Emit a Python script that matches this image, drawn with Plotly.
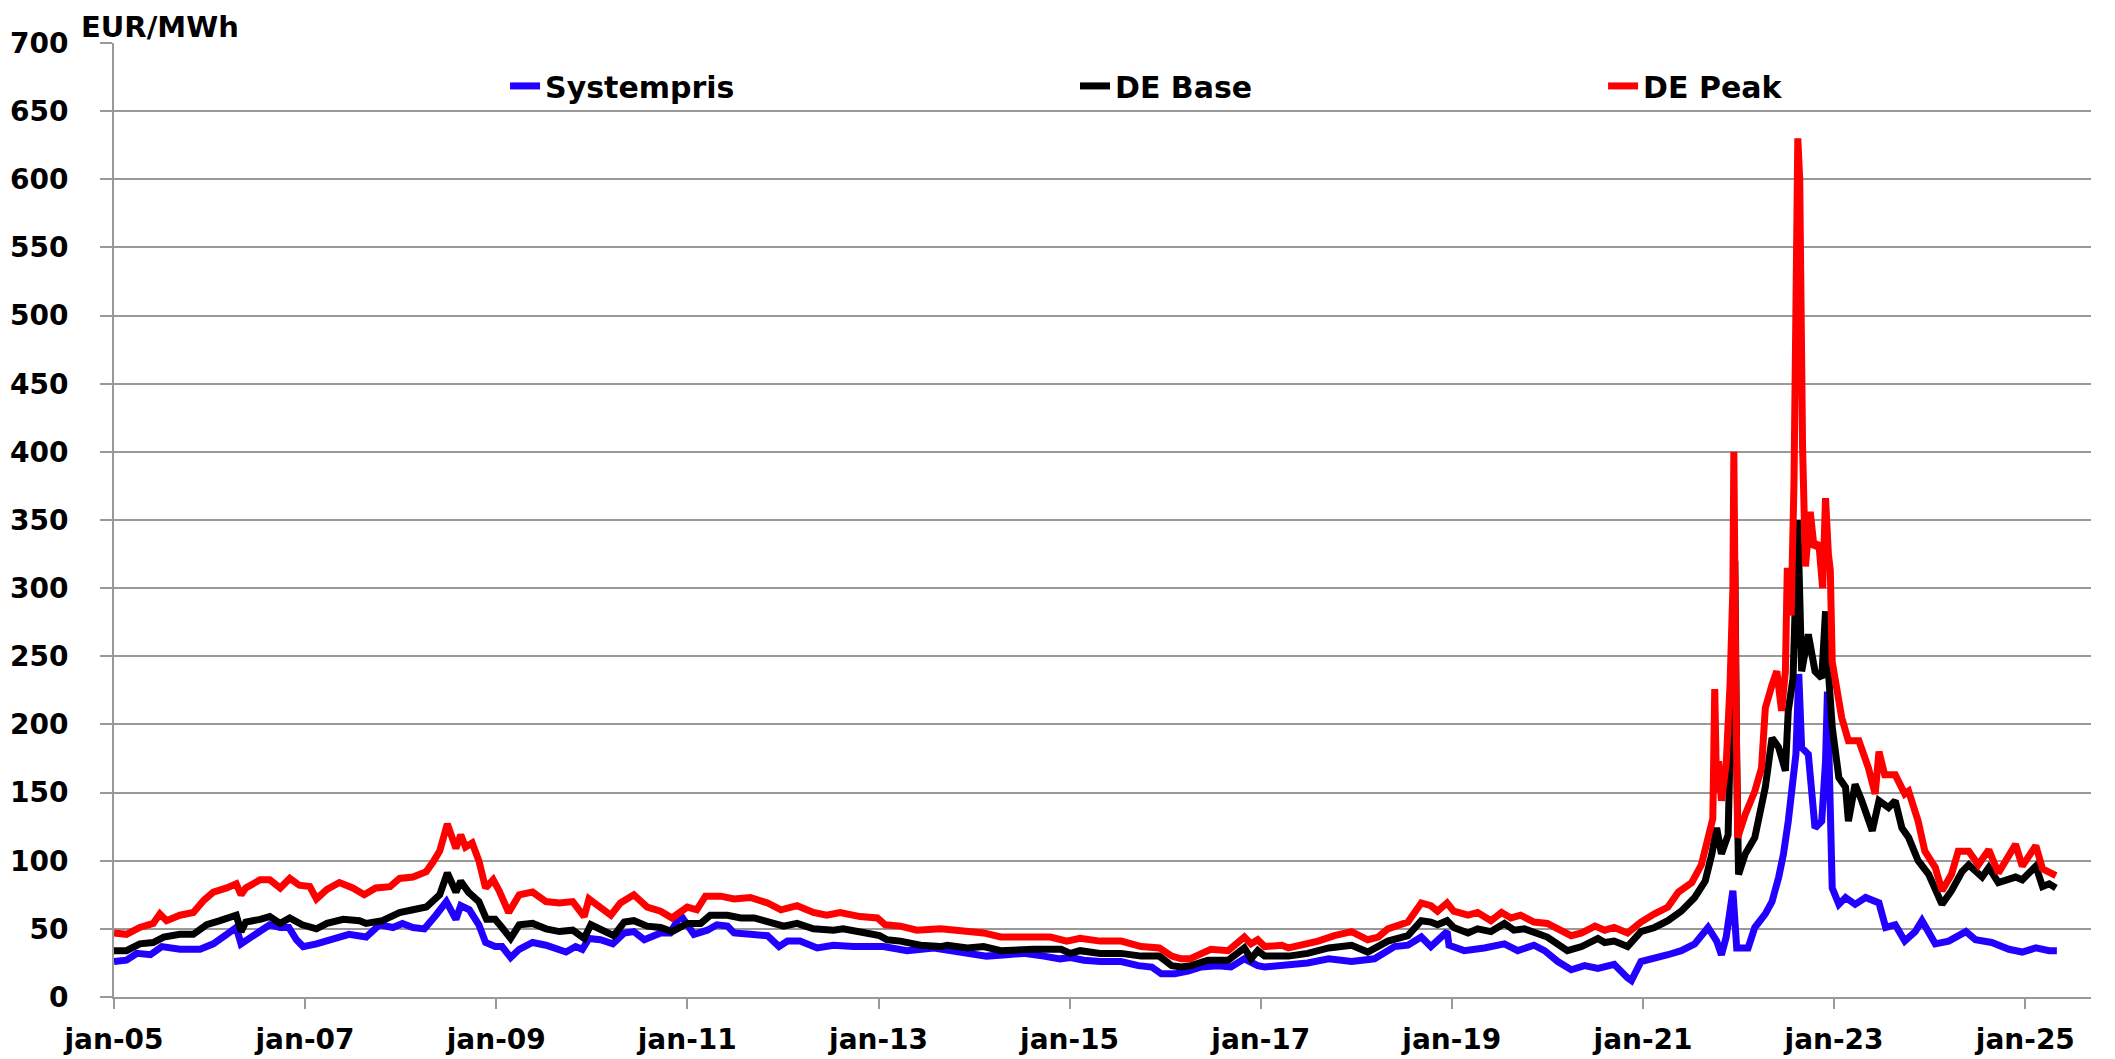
import pandas as pd
import plotly.graph_objects as go

# decimal years, with values in EUR/MWh
sys_t = [2005.00, 2005.13, 2005.24, 2005.38, 2005.50, 2005.69, 2005.90,
         2006.04, 2006.18, 2006.28, 2006.33, 2006.42, 2006.53, 2006.63, 2006.74, 2006.83, 2006.91, 2006.98,
         2007.12, 2007.29, 2007.46, 2007.64, 2007.78, 2007.92,
         2008.02, 2008.13, 2008.25, 2008.37, 2008.48, 2008.58, 2008.63, 2008.72, 2008.82, 2008.89, 2008.99,
         2009.06, 2009.15, 2009.24, 2009.38, 2009.52, 2009.66, 2009.73, 2009.83, 2009.90, 2009.97,
         2010.09, 2010.22, 2010.34, 2010.44, 2010.55, 2010.72, 2010.82, 2010.93,
         2011.02, 2011.07, 2011.21, 2011.31, 2011.42, 2011.49, 2011.66, 2011.84, 2011.96,
         2012.05, 2012.18, 2012.36, 2012.53, 2012.74,
         2013.05, 2013.30, 2013.58, 2013.82,
         2014.13, 2014.34, 2014.52, 2014.73, 2014.90,
         2015.01, 2015.15, 2015.32, 2015.54, 2015.72, 2015.86, 2015.96,
         2016.10, 2016.24, 2016.38, 2016.55, 2016.69, 2016.83, 2016.97,
         2017.04, 2017.29, 2017.49, 2017.71, 2017.95,
         2018.19, 2018.30, 2018.40, 2018.54, 2018.68, 2018.78, 2018.95, 2018.97,
         2019.13, 2019.34, 2019.55, 2019.69, 2019.86, 2019.97,
         2020.11, 2020.25, 2020.39, 2020.53, 2020.60, 2020.70, 2020.84, 2020.88, 2020.98,
         2021.12, 2021.26, 2021.40, 2021.54, 2021.68, 2021.77, 2021.82, 2021.87, 2021.94, 2021.98,
         2022.10, 2022.17, 2022.28, 2022.35, 2022.42, 2022.47, 2022.52, 2022.57, 2022.60, 2022.63,
         2022.66, 2022.73, 2022.77, 2022.80, 2022.87, 2022.91, 2022.93, 2022.98,
         2023.05, 2023.12, 2023.22, 2023.33, 2023.47, 2023.54, 2023.64, 2023.74, 2023.85, 2023.92,
         2024.06, 2024.20, 2024.38, 2024.48, 2024.65, 2024.83, 2024.97,
         2025.11, 2025.25, 2025.33]
sys_v = [26, 27, 32, 31, 37, 35, 35,
         39, 46, 51, 39, 43, 49, 53, 51, 51, 42, 37,
         39, 42, 46, 44, 53, 51,
         54, 51, 50, 60, 70, 57, 67, 64, 53, 40, 37,
         37, 29, 35, 40, 38, 35, 33, 37, 35, 43,
         42, 39, 47, 48, 42, 47, 47, 60,
         50, 46, 49, 53, 52, 47, 46, 45, 37,
         41, 41, 36, 38, 37,
         37, 34, 36, 33,
         30, 31, 32, 30, 28,
         29, 27, 26, 26, 23, 22, 17,
         17, 19, 22, 23, 22, 28, 23,
         22, 23, 25, 28, 26,
         28, 32, 37, 38, 44, 37, 48, 38,
         34, 36, 39, 34, 38, 34,
         26, 20, 23, 21, 22, 24, 14, 12, 26,
         28, 31, 34, 39, 51, 41, 31, 44, 78, 36,
         36, 51, 61, 70, 88, 105, 129, 154, 178, 237,
         183, 178, 149, 124, 129, 173, 224, 80,
         68, 73, 68, 73, 69, 51, 53, 41, 48, 56,
         39, 41, 48, 42, 40, 35, 33,
         36, 34, 34]

base_t = [2005.00, 2005.13, 2005.27, 2005.41, 2005.52, 2005.69, 2005.83, 2005.97,
          2006.11, 2006.28, 2006.33, 2006.38, 2006.53, 2006.63, 2006.74, 2006.84, 2006.97,
          2007.12, 2007.23, 2007.40, 2007.57, 2007.64, 2007.81, 2007.99,
          2008.13, 2008.27, 2008.41, 2008.49, 2008.58, 2008.63, 2008.71, 2008.82, 2008.90, 2008.99,
          2009.06, 2009.15, 2009.24, 2009.38, 2009.52, 2009.66, 2009.80, 2009.92, 2009.99,
          2010.11, 2010.23, 2010.34, 2010.44, 2010.58, 2010.72, 2010.84,
          2011.00, 2011.14, 2011.24, 2011.42, 2011.56, 2011.70, 2011.84,
          2012.01, 2012.15, 2012.32, 2012.53, 2012.63, 2012.87,
          2013.01, 2013.09, 2013.23, 2013.44, 2013.65, 2013.72, 2013.93,
          2014.10, 2014.28, 2014.63, 2014.91,
          2015.01, 2015.11, 2015.32, 2015.54, 2015.75, 2015.94,
          2016.07, 2016.17, 2016.27, 2016.45, 2016.66, 2016.83, 2016.90, 2016.97,
          2017.04, 2017.29, 2017.49, 2017.71, 2017.95,
          2018.12, 2018.33, 2018.54, 2018.68, 2018.78, 2018.85, 2018.95,
          2019.02, 2019.17, 2019.27, 2019.41, 2019.55, 2019.65, 2019.76, 2019.86,
          2020.00, 2020.21, 2020.36, 2020.53, 2020.60, 2020.70, 2020.84, 2020.98,
          2021.12, 2021.26, 2021.40, 2021.54, 2021.65, 2021.72, 2021.77, 2021.82, 2021.89, 2021.93, 2021.96, 2021.98,
          2022.00, 2022.07, 2022.17, 2022.28, 2022.35, 2022.42, 2022.49, 2022.52, 2022.57, 2022.62,
          2022.66, 2022.73, 2022.80, 2022.87, 2022.91, 2022.94, 2022.98,
          2023.05, 2023.12, 2023.15, 2023.22, 2023.29, 2023.40, 2023.47, 2023.57, 2023.64, 2023.71, 2023.78, 2023.88, 2023.99,
          2024.06, 2024.13, 2024.23, 2024.34, 2024.41, 2024.55, 2024.62, 2024.72, 2024.90, 2024.97,
          2025.11, 2025.18, 2025.25, 2025.32]
base_v = [34, 34, 39, 40, 44, 46, 46, 53,
          56, 60, 48, 55, 57, 59, 54, 58, 53,
          50, 54, 57, 56, 54, 56, 62,
          64, 66, 75, 91, 77, 85, 77, 70, 57, 57,
          51, 43, 53, 54, 50, 48, 49, 43, 53,
          49, 45, 55, 56, 52, 51, 48,
          54, 54, 60, 60, 58, 58, 55,
          52, 54, 50, 49, 50, 47,
          45, 42, 41, 38, 37, 38, 36,
          37, 34, 35, 35,
          32, 34, 32, 32, 30, 30,
          23, 22, 23, 27, 27, 36, 28, 34,
          30, 30, 32, 36, 38,
          33, 41, 45, 56, 55, 53, 56,
          51, 47, 50, 48, 54, 49, 50, 47,
          44, 34, 37, 43, 40, 41, 37, 48,
          51, 56, 63, 73, 85, 105, 124, 105, 119, 244, 320, 173,
          90, 105, 117, 154, 190, 183, 166, 210, 234, 350,
          239, 266, 239, 234, 283, 239, 198,
          161, 154, 129, 156, 144, 122, 144, 139, 144, 124, 117, 100, 90,
          80, 68, 78, 92, 97, 88, 95, 84, 88, 86,
          96, 81, 83, 80]

peak_t = [2005.00, 2005.13, 2005.27, 2005.41, 2005.48, 2005.55, 2005.69, 2005.83, 2005.94,
          2006.04, 2006.18, 2006.28, 2006.33, 2006.38, 2006.53, 2006.63, 2006.74, 2006.84, 2006.94,
          2007.05, 2007.12, 2007.23, 2007.36, 2007.50, 2007.62, 2007.74, 2007.89, 2007.99,
          2008.13, 2008.27, 2008.34, 2008.41, 2008.49, 2008.58, 2008.63, 2008.68, 2008.75, 2008.82, 2008.89, 2008.97,
          2009.03, 2009.13, 2009.24, 2009.38, 2009.52, 2009.66, 2009.80, 2009.92, 2009.97,
          2010.07, 2010.20, 2010.30, 2010.36, 2010.44, 2010.58, 2010.72, 2010.84,
          2011.00, 2011.10, 2011.19, 2011.35, 2011.49, 2011.66, 2011.84, 2011.98,
          2012.15, 2012.32, 2012.46, 2012.60, 2012.81, 2012.99,
          2013.07, 2013.23, 2013.40, 2013.65, 2013.86,
          2014.10, 2014.28, 2014.55, 2014.80, 2014.97,
          2015.11, 2015.32, 2015.54, 2015.75, 2015.94,
          2016.07, 2016.17, 2016.26, 2016.38, 2016.48, 2016.66, 2016.73, 2016.83, 2016.90, 2016.97,
          2017.04, 2017.22, 2017.29, 2017.49, 2017.60, 2017.77, 2017.95,
          2018.12, 2018.23, 2018.33, 2018.54, 2018.68, 2018.78, 2018.85, 2018.95,
          2019.02, 2019.17, 2019.27, 2019.41, 2019.52, 2019.62, 2019.72, 2019.86,
          2020.00, 2020.15, 2020.25, 2020.36, 2020.50, 2020.60, 2020.70, 2020.84, 2020.98,
          2021.12, 2021.26, 2021.37, 2021.51, 2021.61, 2021.68, 2021.73, 2021.75, 2021.77, 2021.79,
          2021.82, 2021.87, 2021.91, 2021.94, 2021.95, 2021.97, 2021.99,
          2022.07, 2022.17, 2022.24, 2022.28, 2022.35, 2022.40, 2022.45, 2022.49, 2022.51, 2022.55,
          2022.58, 2022.60, 2022.62, 2022.64, 2022.65, 2022.67, 2022.70, 2022.75, 2022.79, 2022.84,
          2022.88, 2022.91, 2022.94, 2022.96, 2022.98,
          2023.01, 2023.08, 2023.15, 2023.26, 2023.36, 2023.43, 2023.47, 2023.53, 2023.64, 2023.74, 2023.78, 2023.88, 2023.95,
          2024.06, 2024.13, 2024.23, 2024.30, 2024.41, 2024.51, 2024.62, 2024.72, 2024.90, 2024.97,
          2025.11, 2025.18, 2025.25, 2025.32]
peak_v = [47, 46, 51, 54, 61, 56, 60, 62, 71,
          77, 80, 83, 75, 80, 86, 86, 80, 87, 82,
          81, 72, 79, 84, 80, 75, 80, 81, 87,
          88, 92, 99, 107, 127, 109, 119, 110, 113, 100, 80, 86,
          78, 62, 75, 77, 70, 69, 70, 59, 72,
          67, 60, 69, 71, 75, 66, 63, 58,
          66, 64, 74, 74, 72, 73, 69, 64,
          67, 62, 60, 62, 59, 58,
          53, 52, 49, 50, 49,
          47, 44, 44, 44, 41,
          43, 41, 41, 37, 36,
          30, 28, 28, 32, 35, 34, 38, 44, 39, 42,
          37, 38, 36, 39, 41, 45, 48,
          42, 44, 50, 55, 69, 67, 63, 69,
          63, 60, 62, 56, 62, 58, 60, 55,
          54, 49, 45, 47, 52, 49, 51, 47, 55,
          61, 66, 77, 84, 97, 117, 131, 226, 150, 173,
          144, 171, 229, 300, 400, 230, 117,
          134, 151, 168, 212, 229, 239, 210, 239, 315, 280,
          377, 575, 630, 600, 520, 403, 316, 356, 330, 333,
          300, 366, 325, 313, 246,
          233, 205, 188, 188, 168, 149, 180, 163, 163, 149, 151, 129, 107,
          95, 78, 90, 107, 107, 97, 108, 91, 112, 96,
          111, 94, 92, 89]

tick_dates = ["2005-01-01", "2007-01-01", "2009-01-01", "2011-01-01", "2013-01-01", "2015-01-01",
              "2017-01-01", "2019-01-01", "2021-01-01", "2023-01-01", "2025-01-01"]
tick_labels = ["jan-05", "jan-07", "jan-09", "jan-11", "jan-13", "jan-15",
               "jan-17", "jan-19", "jan-21", "jan-23", "jan-25"]


def to_dates(years):
    out = []
    for y in years:
        yr = int(y)
        out.append(pd.Timestamp(year=yr, month=1, day=1) + pd.Timedelta(days=(y - yr) * 365.25))
    return out


FONT = "DejaVu Sans"
GRID = "#999999"
LW = 7

fig = go.Figure()
fig.add_trace(go.Scatter(x=to_dates(sys_t), y=sys_v, mode="lines", name="Systempris",
                         line=dict(color="#2200ff", width=LW)))
fig.add_trace(go.Scatter(x=to_dates(base_t), y=base_v, mode="lines", name="DE Base",
                         line=dict(color="#000000", width=LW), legend="legend2"))
fig.add_trace(go.Scatter(x=to_dates(peak_t), y=peak_v, mode="lines", name="DE Peak",
                         line=dict(color="#ff0000", width=LW), legend="legend3"))

leg = dict(y=0.955, xanchor="left", yanchor="middle", orientation="h",
           bgcolor="rgba(0,0,0,0)", font=dict(family=FONT, size=30, color="black", weight="bold"))

# page body adds an 8px margin, so the figure is 8px smaller on each side
fig.update_layout(
    width=2107, height=1051,
    margin=dict(l=106, r=24, t=35, b=62, autoexpand=False),
    plot_bgcolor="white", paper_bgcolor="white",
    showlegend=True,
    legend=dict(leg, x=0.1978),
    legend2=dict(leg, x=0.4861),
    legend3=dict(leg, x=0.7532),
    xaxis=dict(
        type="date", automargin=False,
        range=["2005-01-01", "2025-09-09"],
        tickvals=tick_dates, ticktext=tick_labels,
        ticks="outside", ticklen=10, tickwidth=2, tickcolor=GRID,
        showline=True, linecolor=GRID, linewidth=2,
        showgrid=False, zeroline=False,
        ticklabelstandoff=6,
        tickfont=dict(family=FONT, size=28, color="black", weight="bold"),
    ),
    yaxis=dict(
        range=[0, 700], dtick=50, automargin=False,
        ticks="outside", ticklen=12, tickwidth=2, tickcolor=GRID,
        showline=True, linecolor=GRID, linewidth=2,
        showgrid=True, gridcolor=GRID, gridwidth=2, zeroline=False,
        ticklabelstandoff=26,
        tickfont=dict(family=FONT, size=28, color="black", weight="bold"),
    ),
    annotations=[dict(text="EUR/MWh", xref="paper", yref="paper", x=-0.0175, y=1.0168,
                      xanchor="left", yanchor="middle", showarrow=False,
                      font=dict(family=FONT, size=29, color="black", weight="bold"))],
)

fig.write_html("out.html")
